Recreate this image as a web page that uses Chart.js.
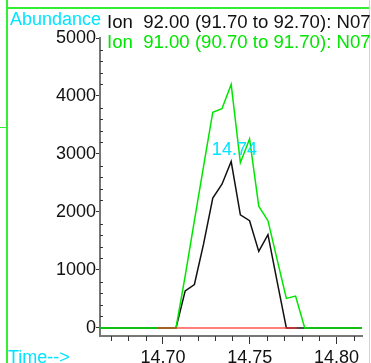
<!DOCTYPE html>
<html><head><meta charset="utf-8">
<script src="https://cdn.jsdelivr.net/npm/chart.js@4"></script>
<style>html,body{margin:0;padding:0;background:#fff;overflow:hidden}#wrap{width:371px;height:363px}</style>
</head><body><div id="wrap"><canvas id="c" width="371" height="363"></canvas></div>
<script>
// retention times (min)
const times = [14.6598, 14.6651, 14.6704, 14.6757, 14.6810, 14.6863, 14.6916, 14.6969, 14.7022,
  14.7075, 14.7128, 14.7181, 14.7234, 14.7287, 14.7340, 14.7393, 14.7446, 14.7499, 14.7552,
  14.7605, 14.7658, 14.7711, 14.7764, 14.7817, 14.7870, 14.7923, 14.7976, 14.8029, 14.8082,
  14.8135, 14.8188];
// Ion 92.00 abundance
const ion92 = [0, 0, 0, 0, 0, 0, 0, 0, 0,
  0, 640, 750, 1450, 2240, 2480, 2870, 1950, 1850, 1320,
  1610, 800, 0, 0, 0, 0, 0, 0, 0, 0, 0, 0];
// Ion 91.00 abundance
const ion91 = [0, 0, 0, 0, 0, 0, 0, 0, 0,
  0, 900, 1850, 2790, 3720, 3780, 4200, 2850, 3260, 2100,
  1850, 1180, 510, 550, 0, 0, 0, 0, 0, 0, 0, 0];
// integration baseline
const baselineTimes = [14.6971, 14.7772];
const baselineValues = [0, 0];
// axes
const xMajorTicks = [14.70, 14.75, 14.80];
const xMinorTicks = [14.67, 14.68, 14.69, 14.71, 14.72, 14.73, 14.74, 14.76, 14.77, 14.78, 14.79, 14.81];
const yMajorTicks = [0, 1000, 2000, 3000, 4000, 5000];
const yMinorTicks = [200,400,600,800,1200,1400,1600,1800,2200,2400,2600,2800,3200,3400,3600,3800,4200,4400,4600,4800];
const legendLabels = ['Ion  92.00 (91.70 to 92.70): N07', 'Ion  91.00 (90.70 to 91.70): N07'];
const yTitle = 'Abundance';
const xTitle = 'Time-->';
const peakLabel = '14.74';
const peakTime = 14.74;

const FONT = '"Liberation Sans", Arial, sans-serif';
const CYAN = '#00e4ff';
const GREEN = '#00e600';

const pts = (xs, ys) => xs.map((x, i) => ({x, y: ys[i]}));

const deco = {
  id: 'deco',
  beforeDraw(chart) {
    const c = chart.ctx;
    c.save();
    c.fillStyle = '#fff';
    c.fillRect(0, 0, chart.width, chart.height);
    c.restore();
  },
  afterDraw(chart) {
    const c = chart.ctx, xs = chart.scales.x, ys = chart.scales.y;
    const ca = chart.chartArea;
    c.save();
    // minor ticks
    c.strokeStyle = '#333'; c.lineWidth = 1;
    c.beginPath();
    xMinorTicks.forEach(v => { const px = Math.round(xs.getPixelForValue(v)) + 0.5; c.moveTo(px, ca.bottom); c.lineTo(px, ca.bottom + 5); });
    yMinorTicks.forEach(v => { const py = Math.round(ys.getPixelForValue(v)) + 0.5; c.moveTo(ca.left, py); c.lineTo(ca.left + 3, py); });
    c.stroke();
    // frame lines
    c.strokeStyle = '#33ee33'; c.lineWidth = 2;
    c.beginPath(); c.moveTo(7, 0); c.lineTo(7, 363); c.moveTo(7, 8); c.lineTo(369, 8); c.stroke();
    c.lineWidth = 1;
    c.beginPath(); c.moveTo(0, 127.5); c.lineTo(7, 127.5); c.stroke();
    c.strokeStyle = '#a8f0a8';
    c.beginPath(); c.moveTo(369.5, 0); c.lineTo(369.5, 363); c.stroke();
    // texts
    c.font = '18px ' + FONT;
    c.textBaseline = 'alphabetic';
    c.textAlign = 'left';
    c.fillStyle = CYAN;
    c.fillText(yTitle, 10, 25);
    c.fillText(xTitle, 8, 363);
    c.font = '18.6px ' + FONT;
    c.fillStyle = '#111';
    c.fillText(legendLabels[0], 107, 28);
    c.fillStyle = GREEN;
    c.fillText(legendLabels[1], 107, 48);
    // peak label above the ion 92 apex
    c.font = '18px ' + FONT;
    const apex = Math.max(...ion92);
    c.fillStyle = CYAN;
    c.textAlign = 'center';
    c.fillText(peakLabel, xs.getPixelForValue(peakTime) + 2, ys.getPixelForValue(apex) - 7);
    c.restore();
  }
};

new Chart(document.getElementById('c'), {
  type: 'scatter',
  data: {
    datasets: [
      { data: pts(baselineTimes, baselineValues), showLine: true, borderColor: 'rgba(255,40,40,0.6)', borderWidth: 2, pointRadius: 0 },
      { data: pts(times, ion91), showLine: true, borderColor: GREEN, borderWidth: 1.5, pointRadius: 0 },
      { data: pts(times, ion92), showLine: true, borderColor: '#111', borderWidth: 1.5, pointRadius: 0 }
    ]
  },
  options: {
    responsive: false, animation: false, devicePixelRatio: 1,
    layout: { padding: { left: 0, top: 38, right: 9, bottom: 0 } },
    plugins: { legend: { display: false }, tooltip: { enabled: false } },
    scales: {
      x: {
        type: 'linear', position: 'bottom', min: 14.6637, max: 14.8147,
        afterFit(s) { s.height = 27; },
        afterBuildTicks(s) { s.ticks = xMajorTicks.map(v => ({value: v})); },
        ticks: { font: { size: 18, family: FONT }, color: '#111', padding: 3, maxRotation: 0, autoSkip: false,
          callback: v => v.toFixed(2) },
        grid: { display: true, drawOnChartArea: false, drawTicks: true, tickLength: 8, tickColor: '#333', tickWidth: 1 },
        border: { display: true, color: '#777', width: 2 }
      },
      y: {
        min: -138, max: 5000,
        afterFit(s) { s.width = 100; },
        afterBuildTicks(s) { s.ticks = yMajorTicks.map(v => ({value: v})); },
        ticks: { font: { size: 18, family: FONT }, color: '#111', padding: 0, autoSkip: false,
          callback: v => String(v) },
        grid: { display: true, drawOnChartArea: false, drawTicks: true, tickLength: 4, tickColor: '#333', tickWidth: 1 },
        border: { display: true, color: '#777', width: 2 }
      }
    }
  },
  plugins: [deco]
});
</script></body></html>
